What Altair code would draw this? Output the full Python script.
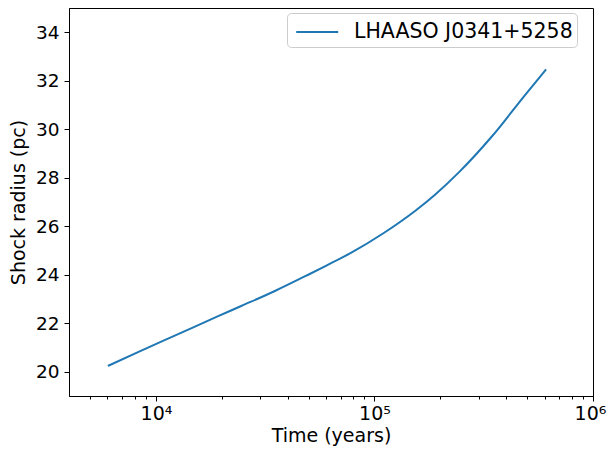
import altair as alt
import pandas as pd

time_years = [6026, 8375, 12706, 19143, 24547, 34834, 49204, 60256, 77268,
              109396, 154882, 189234, 243220, 344350, 487529, 610000]
shock_radius = [20.24, 20.83, 21.56, 22.28, 22.71, 23.32, 23.98, 24.38, 24.88,
                25.70, 26.66, 27.30, 28.22, 29.70, 31.40, 32.47]
series_name = "LHAASO J0341+5258"

x_major = [1e4, 1e5, 1e6]
x_minor = [5000, 6000, 7000, 8000, 9000,
           20000, 30000, 40000, 50000, 60000, 70000, 80000, 90000,
           200000, 300000, 400000, 500000, 600000, 700000, 800000, 900000]
y_ticks = [20, 22, 24, 26, 28, 30, 32, 34]

df = pd.DataFrame({"t": time_years, "r": shock_radius, "s": [series_name] * len(time_years)})

FONT = "DejaVu Sans"
xscale = alt.Scale(type="log", domain=[4000, 1e6], nice=False)
yscale = alt.Scale(domain=[19, 35], nice=False, zero=False)

label_expr = ("datum.value == 10000 ? '10⁴' : datum.value == 100000 ? '10⁵' : "
              "datum.value == 1000000 ? '10⁶' : ''")

y_axis = alt.Axis(title="Shock radius (pc)", values=y_ticks, tickSize=5,
                  labelFontSize=18.5, titleFontSize=19, labelPadding=5,
                  titlePadding=7, grid=False, domainColor="black",
                  tickColor="black", labelColor="black", titleColor="black",
                  labelFont=FONT, titleFont=FONT, titleFontWeight="normal")

main = alt.Chart(df).mark_line(strokeWidth=2, interpolate="monotone").encode(
    x=alt.X("t:Q", scale=xscale,
            axis=alt.Axis(title="Time (years)", values=x_major, labelExpr=label_expr,
                          tickSize=5, labelFontSize=19, titleFontSize=19,
                          labelPadding=3, titlePadding=3, grid=False,
                          domainColor="black", tickColor="black", labelColor="black",
                          titleColor="black", labelFont=FONT, titleFont=FONT,
                          titleFontWeight="normal", labelFlush=False,
                          labelOffset={"condition": {"test": "datum.value == 1000000",
                                                     "value": -3}, "value": 0})),
    y=alt.Y("r:Q", scale=yscale, axis=y_axis),
    color=alt.Color("s:N", scale=alt.Scale(domain=[series_name], range=["#1f77b4"]),
                    legend=alt.Legend(title=None, orient="none", legendX=218, legendY=5,
                                      labelFontSize=20.5, labelFont=FONT, labelLimit=400,
                                      labelColor="black", symbolType="M-0.7,0H2.3",
                                      symbolSize=784, symbolStrokeWidth=2,
                                      symbolFillColor="transparent",
                                      strokeColor="#cccccc", fillColor="white",
                                      cornerRadius=4, padding=4, labelOffset=33)),
)

minor = alt.Chart(df).mark_line(opacity=0).encode(
    x=alt.X("t:Q", scale=xscale,
            axis=alt.Axis(title=None, orient="bottom", values=x_minor, labels=False,
                          tickSize=3, domain=False, grid=False, tickColor="black")),
    y=alt.Y("r:Q", scale=yscale, axis=y_axis),
)

chart = alt.layer(main, minor).resolve_axis(x="independent").properties(
    width=524, height=388,
    padding={"left": 61, "top": 0, "right": 14, "bottom": 52},
    autosize=alt.AutoSizeParams(type="none"),
).configure_view(stroke="black", strokeWidth=1)

chart.save("out.html", embed_options={"renderer": "svg", "actions": False})
